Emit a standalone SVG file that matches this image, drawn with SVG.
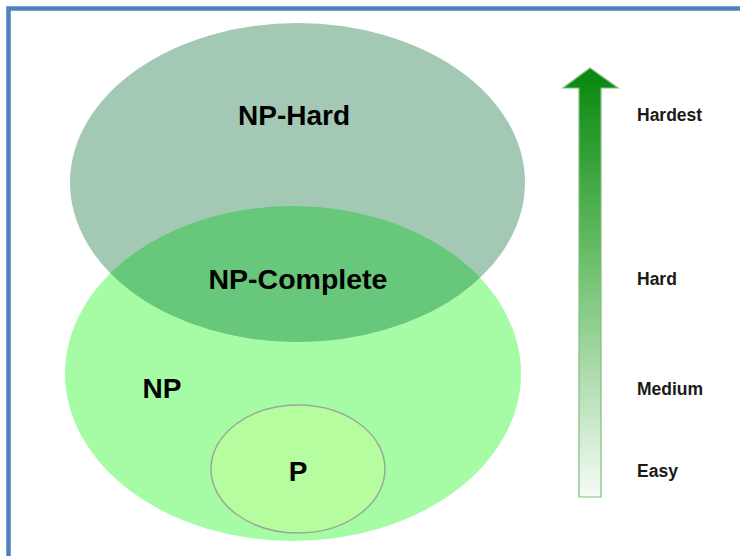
<svg xmlns="http://www.w3.org/2000/svg" width="740" height="556" viewBox="0 0 740 556">
<defs>
<style>
.lbl{font-family:"Liberation Sans",Arial,sans-serif;font-weight:bold;fill:#000;text-anchor:middle}
.side{font-family:"Liberation Sans",Arial,sans-serif;font-weight:bold;fill:#1a1a1a;font-size:17.5px}
</style>
<linearGradient id="ag" x1="0" y1="0" x2="0" y2="1">
<stop offset="0" stop-color="#07860c"/>
<stop offset="0.45" stop-color="#6bbf6b"/>
<stop offset="1" stop-color="#f6fbf6"/>
</linearGradient>
<clipPath id="npclip"><ellipse cx="293" cy="373.5" rx="228" ry="167.5"/></clipPath>
</defs>
<rect x="0" y="0" width="740" height="556" fill="#ffffff"/>
<rect x="8.5" y="8.5" width="800" height="600" fill="none" stroke="#4f81bd" stroke-width="4.5"/>
<g id="np">
<ellipse cx="293" cy="373.5" rx="228" ry="167.5" fill="#a5fca5"/>
</g>
<g id="np-hard">
<ellipse cx="297.5" cy="182.5" rx="227.5" ry="159.5" fill="#a3c9b5"/>
</g>
<g id="np-complete">
<ellipse cx="297.5" cy="182.5" rx="227.5" ry="159.5" fill="#67c77a" clip-path="url(#npclip)"/>
</g>
<g id="p">
<ellipse cx="298" cy="469" rx="87" ry="64" fill="#b5fd9e" stroke="#9aa89a" stroke-width="1.5"/>
</g>
<g id="labels">
<text class="lbl" x="294" y="125" font-size="28">NP-Hard</text>
<text class="lbl" x="298" y="289" font-size="28.5">NP-Complete</text>
<text class="lbl" x="162" y="398" font-size="28">NP</text>
<text class="lbl" x="298" y="481" font-size="28">P</text>
</g>
<g id="connectors">
<path d="M579,497 L579,88 L563,88 L590,68 L618,88 L601,88 L601,497 Z" fill="url(#ag)" stroke="#7fbf7f" stroke-width="1.2"/>
</g>
<g id="scale">
<text class="side" x="637" y="121">Hardest</text>
<text class="side" x="637" y="285">Hard</text>
<text class="side" x="637" y="395">Medium</text>
<text class="side" x="637" y="477">Easy</text>
</g>
</svg>
